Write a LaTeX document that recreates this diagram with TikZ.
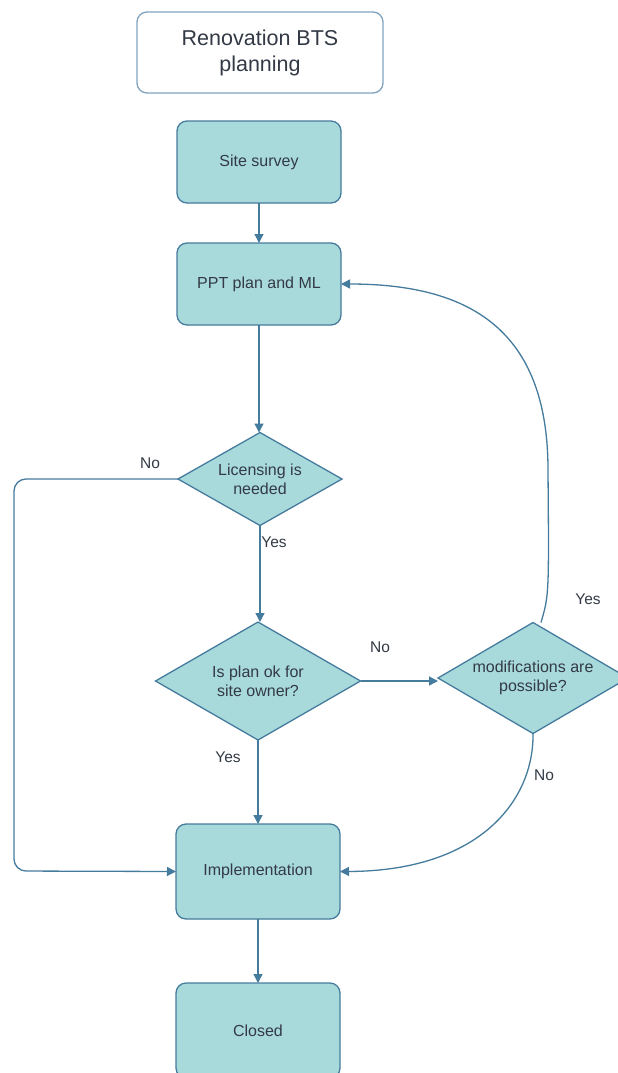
\documentclass[tikz,border=0pt]{standalone}
\usepackage{fontspec}
\setmainfont{Liberation Sans}
\usetikzlibrary{shapes.geometric,arrows.meta}
\definecolor{boxfill}{HTML}{A8DADC}
\definecolor{boxline}{HTML}{457B9D}
\definecolor{titleline}{HTML}{7FA3BE}
\definecolor{txt}{HTML}{333A45}
\begin{document}
\begin{tikzpicture}[x=1pt,y=-1pt,
  every node/.style={text=txt,font=\fontsize{16}{19}\selectfont},
  stepbox/.style={draw=boxline,fill=boxfill,line width=1.3pt,rounded corners=10pt,
    minimum width=164pt,minimum height=82pt,inner sep=0pt,outer sep=0pt,align=center},
  decision/.style={diamond,draw=boxline,fill=boxfill,line width=1.3pt,
    inner sep=0pt,outer sep=0pt},
  flow/.style={draw=boxline,line width=1.3pt,-{Triangle[length=9pt,width=9pt]}},
  lbl/.style={font=\fontsize{15.5}{18}\selectfont}]
\useasboundingbox (0,0) rectangle (618,1073);

% title
\node[draw=titleline,line width=1.3pt,rounded corners=10pt,fill=white,
  minimum width=246pt,minimum height=81pt,inner sep=0pt,align=center,
  font=\fontsize{21.5}{26}\selectfont] (title) at (260,52.5) {Renovation BTS\\planning};

% process steps
\node[stepbox] (survey) at (259,162) {Site survey};
\node[stepbox] (plan) at (259,284) {PPT plan and ML};
\node[stepbox,minimum height=95pt] (impl) at (258,871.5) {Implementation};
\node[stepbox,minimum height=95pt] (closed) at (258,1030.5) {Closed};

% decisions: the diamond outline, then its text on top
\node[decision,minimum width=164pt,minimum height=93pt] (lic) at (260,479) {};
\node[decision,minimum width=205pt,minimum height=118pt] (ok) at (258,681) {};
\node[decision,minimum width=190pt,minimum height=111pt] (mod) at (533,678) {};
\node[align=center] (lictext) at (lic.center) {Licensing is\\needed};
\node[align=center] (oktext) at (ok.center) {Is plan ok for\\site owner?};
\node[align=center] (modtext) at (mod.center) {modifications are\\possible?};

% connectors
\draw[flow] (survey) -- (plan);
\draw[flow] (plan.south) -- (plan.south |- lic.north);
\draw[flow] (lic.south) -- (lic.south |- ok.north);
\draw[flow] (ok.east) -- (ok.east -| mod.west);
\draw[flow] (ok.south) -- (impl.north);
\draw[flow] (impl) -- (closed);
\draw[flow,rounded corners=12pt] (lic.west) -| (14,871) -- (impl.west);
\draw[flow] (mod.north) ++(8,0) coordinate (modtop)
  (modtop) .. controls (549,595) .. (548,470)
  .. controls (548,330) and (470,284) .. (plan.east);
\draw[flow] (mod.south) .. controls (534,800) and (480,871) .. (impl.east);

% branch labels
\node[lbl] (l1) at (150,463) {No};
\node[lbl] (l2) at (274,542) {Yes};
\node[lbl] (l3) at (380,647) {No};
\node[lbl] (l4) at (228,757) {Yes};
\node[lbl] (l5) at (588,599) {Yes};
\node[lbl] (l6) at (544,775) {No};
\end{tikzpicture}
\end{document}
